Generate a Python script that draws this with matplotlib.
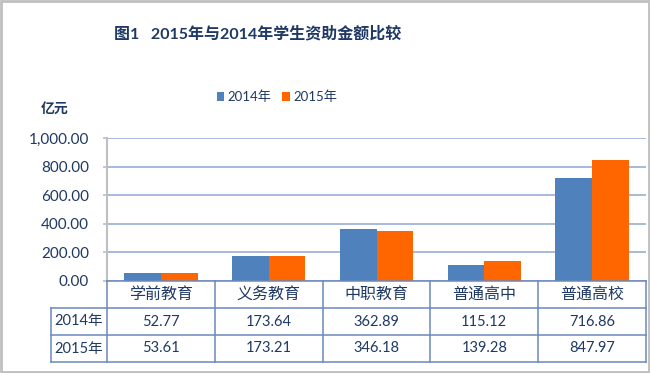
import matplotlib
matplotlib.use("Agg")
import matplotlib.pyplot as plt
from matplotlib.patches import Rectangle
from matplotlib.ticker import FuncFormatter
import numpy as np

plt.rcParams['font.family'] = ['Lato', 'Noto Sans CJK SC', 'DejaVu Sans']

categories = ["学前教育", "义务教育", "中职教育", "普通高中", "普通高校"]
series_names = ["2014年", "2015年"]
values_2014 = [52.77, 173.64, 362.89, 115.12, 716.86]
values_2015 = [53.61, 173.21, 346.18, 139.28, 847.97]
yticks = [0, 200, 400, 600, 800, 1000]
title = "图1   2015年与2014年学生资助金额比较"
unit_label = "亿元"

W, H = 650, 373
fig = plt.figure(figsize=(W / 100, H / 100), dpi=100)
fig.patch.set_facecolor("white")

txt = "#1F3864"
gridc = "#8FA6CF"
tablec = "#6A88BC"
blue = "#4F81BD"
orange = "#FF6600"

def fx(px):
    return px / W

def fy(py):
    return 1 - py / H

# main axes
L, R, T, B = 107, 646, 138, 281
ax = fig.add_axes([fx(L), fy(B), fx(R) - fx(L), fy(T) - fy(B)])
x = np.arange(len(categories))
bw = 0.34
b1 = ax.bar(x - bw / 2, values_2014, bw, color=blue, label=series_names[0], zorder=3)
b2 = ax.bar(x + bw / 2, values_2015, bw, color=orange, label=series_names[1], zorder=3)
ax.set_xlim(-0.5, len(categories) - 0.5)
ax.set_ylim(0, 1000)
ax.set_yticks(yticks)
ax.yaxis.set_major_formatter(FuncFormatter(lambda v, p: f"{v:,.2f}"))
ax.set_xticks([])
ax.grid(axis="y", color=gridc, linewidth=1.1, zorder=0)
for s in ["top", "right", "bottom"]:
    ax.spines[s].set_visible(False)
ax.spines["left"].set_color("#BFBFBF")
ax.spines["left"].set_linewidth(1.5)
ax.tick_params(axis="y", length=3, color="#BFBFBF", width=1.2, pad=10,
               labelsize=11, labelcolor=txt)
ax.set_facecolor("none")

# table axes
TL, TB = 50.7, 362
tax = fig.add_axes([fx(TL), fy(TB), fx(R) - fx(TL), fy(B) - fy(TB)])
unit = (R - L) / len(categories)
x0 = -0.5 - (L - TL) / unit
xr = len(categories) - 0.5
tax.set_xlim(x0, xr)
tax.set_ylim(3, 0)
tax.axis("off")
lw = 1.1
tax.plot([-0.5, xr], [0, 0], color=tablec, lw=lw, clip_on=False)
for yy in [1, 2, 3]:
    tax.plot([x0, xr], [yy, yy], color=tablec, lw=lw, clip_on=False)
tax.plot([x0, x0], [1, 3], color=tablec, lw=lw, clip_on=False)
for k in range(len(categories) + 1):
    tax.plot([-0.5 + k, -0.5 + k], [0, 3], color=tablec, lw=lw, clip_on=False)
for i, c in enumerate(categories):
    tax.text(i, 0.5, c, ha="center", va="center", fontsize=11.5, color=txt)
    tax.text(i, 1.5, f"{values_2014[i]:.2f}", ha="center", va="center", fontsize=10.5, color=txt)
    tax.text(i, 2.5, f"{values_2015[i]:.2f}", ha="center", va="center", fontsize=10.5, color=txt)
xm = (x0 - 0.5) / 2
tax.text(xm, 1.5, series_names[0], ha="center", va="center", fontsize=10.5, color=txt)
tax.text(xm, 2.5, series_names[1], ha="center", va="center", fontsize=10.5, color=txt)

# title, unit, legend
fig.text(fx(258), fy(34), title, ha="center", va="center", fontsize=11.5,
         fontweight="bold", color=txt)
fig.text(fx(55), fy(108), unit_label, ha="center", va="center", fontsize=10,
         color=txt, fontweight="bold")
fig.legend(handles=[b1, b2], labels=series_names, loc="center",
           bbox_to_anchor=(fx(277), fy(97)), ncol=2, frameon=False,
           fontsize=9.5, handlelength=0.6, handleheight=0.6,
           handletextpad=0.25, columnspacing=0.8, labelcolor=txt)

# outer border
fig.patches.append(Rectangle((0.002, 0.003), 0.996, 0.994, transform=fig.transFigure,
                             fill=False, edgecolor="#BFBFBF", linewidth=2))

fig.savefig("out.png", dpi=100)
